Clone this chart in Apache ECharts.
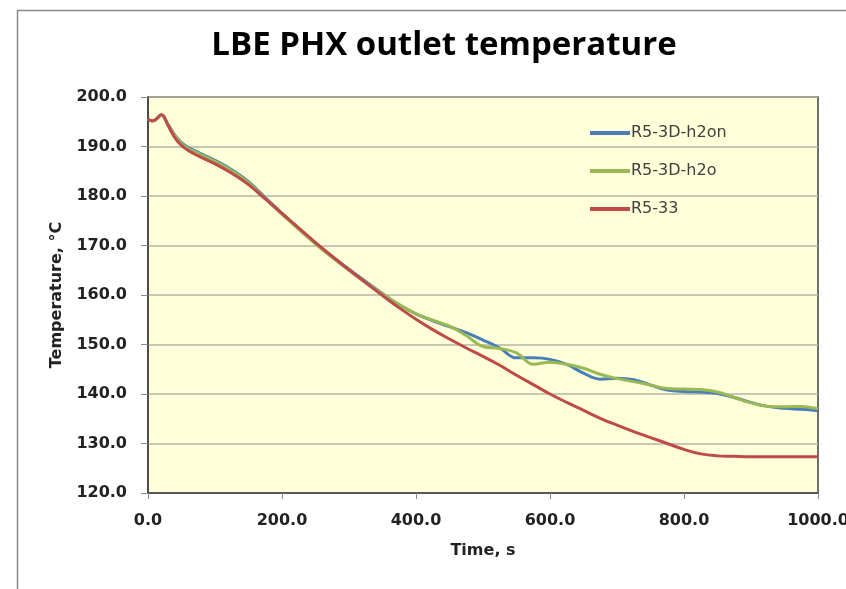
<!DOCTYPE html>
<html>
<head>
<meta charset="utf-8">
<script src="https://cdn.jsdelivr.net/npm/echarts@6/dist/echarts.min.js"></script>
<style>html,body{margin:0;padding:0;background:#fff}#c{width:846px;height:589px}</style>
</head>
<body>
<div id="c"></div>
<script>
const times = [0,5,10,20,30,40,50,60,75,100,125,150,175,200,250,300,350,375,400,425,450,475,500,525,550,575,600,625,650,675,700,725,750,775,800,825,850,875,900,925,950,975,1000];
const h2on = [195.6,195.2,195.3,196.4,194.5,192.3,190.8,189.8,188.8,187.2,185.3,182.9,179.7,176.5,170.5,165.2,160.3,158.0,156.2,154.8,153.6,152.4,150.9,149.3,147.3,147.3,147.0,146.0,144.2,143.0,143.2,142.9,141.8,140.8,140.5,140.4,140.1,139.3,138.3,137.5,137.1,136.9,136.6];
const h2o = [195.6,195.2,195.3,196.4,194.4,192.2,190.6,189.6,188.6,187.0,185.1,182.7,179.5,176.3,170.3,165.0,160.2,158.0,156.2,154.9,153.7,151.8,149.6,149.2,148.3,146.0,146.4,146.0,145.2,144.0,143.1,142.5,141.8,141.1,141.0,140.9,140.4,139.3,138.2,137.5,137.4,137.5,137.0];
const r533 = [195.6,195.2,195.3,196.4,194.2,191.8,190.2,189.2,188.1,186.5,184.6,182.3,179.4,176.5,170.6,165.1,159.9,157.4,155.1,153.0,151.1,149.3,147.6,145.8,143.8,141.9,140.0,138.3,136.7,135.1,133.7,132.4,131.2,130.0,128.8,127.9,127.5,127.4,127.3,127.3,127.3,127.3,127.3];
const seriesNames = ['R5-3D-h2on','R5-3D-h2o','R5-33'];
const titleText = 'LBE PHX outlet temperature';
const xName = 'Time, s';
const yName = 'Temperature, °C';

const pair = (arr) => times.map((t, i) => [t, arr[i]]);
const colors = ['#4A7EBB', '#98B954', '#BE4B48'];
const font = '"DejaVu Sans", sans-serif';

const chart = echarts.init(document.getElementById('c'), null, {renderer: 'canvas'});
chart.setOption({
  animation: false,
  backgroundColor: '#ffffff',
  graphic: [{
    type: 'rect', left: 15, top: 8, z: -10,
    shape: {width: 900, height: 700},
    style: {fill: 'none', stroke: '#8a8a8a', lineWidth: 1.5}
  }],
  title: {
    text: titleText, left: 439, top: 24, textAlign: 'center',
    textStyle: {fontFamily: '"Open Sans", sans-serif', fontWeight: 'bold', fontSize: 33, color: '#000'}
  },
  grid: {
    left: 148, right: 28, top: 97, bottom: 96,
    outerBoundsMode: 'none', containLabel: false,
    show: true, backgroundColor: '#FFFFD9', borderColor: '#404040', borderWidth: 1.5
  },
  legend: {
    orient: 'vertical', left: 585, top: 120, itemWidth: 40, itemHeight: 4, itemGap: 22,
    icon: 'rect',
    textStyle: {fontFamily: font, fontSize: 16, color: '#404040', padding: [0, 0, 0, -4]},
    data: seriesNames
  },
  xAxis: {
    type: 'value', min: 0, max: 1000, interval: 200,
    name: xName, nameLocation: 'middle', nameGap: 50,
    nameTextStyle: {fontFamily: font, fontWeight: 'bold', fontSize: 16, color: '#222'},
    axisLine: {show: true, lineStyle: {color: '#404040', width: 1.5}},
    axisTick: {show: true, length: 6, lineStyle: {color: '#888'}},
    axisLabel: {fontFamily: font, fontWeight: 'bold', fontSize: 16, color: '#222', margin: 20,
      formatter: v => v.toFixed(1)},
    splitLine: {show: false}
  },
  yAxis: {
    type: 'value', min: 120, max: 200, interval: 10,
    name: yName, nameLocation: 'middle', nameGap: 83, nameRotate: 90,
    nameTextStyle: {fontFamily: font, fontWeight: 'bold', fontSize: 16, color: '#222'},
    axisLine: {show: true, lineStyle: {color: '#404040', width: 1.5}},
    axisTick: {show: true, length: 7, lineStyle: {color: '#888'}},
    axisLabel: {fontFamily: font, fontWeight: 'bold', fontSize: 16, color: '#222', margin: 21,
      formatter: v => v.toFixed(1)},
    splitLine: {show: true, lineStyle: {color: '#B4B4A8', width: 1.5}}
  },
  series: [
    {name: seriesNames[0], type: 'line', data: pair(h2on), smooth: 0.4, showSymbol: false,
      lineStyle: {width: 3, color: colors[0]}, itemStyle: {color: colors[0]}},
    {name: seriesNames[1], type: 'line', data: pair(h2o), smooth: 0.4, showSymbol: false,
      lineStyle: {width: 3, color: colors[1]}, itemStyle: {color: colors[1]}},
    {name: seriesNames[2], type: 'line', data: pair(r533), smooth: 0.4, showSymbol: false,
      lineStyle: {width: 3, color: colors[2]}, itemStyle: {color: colors[2]}}
  ]
});
</script>
</body>
</html>
